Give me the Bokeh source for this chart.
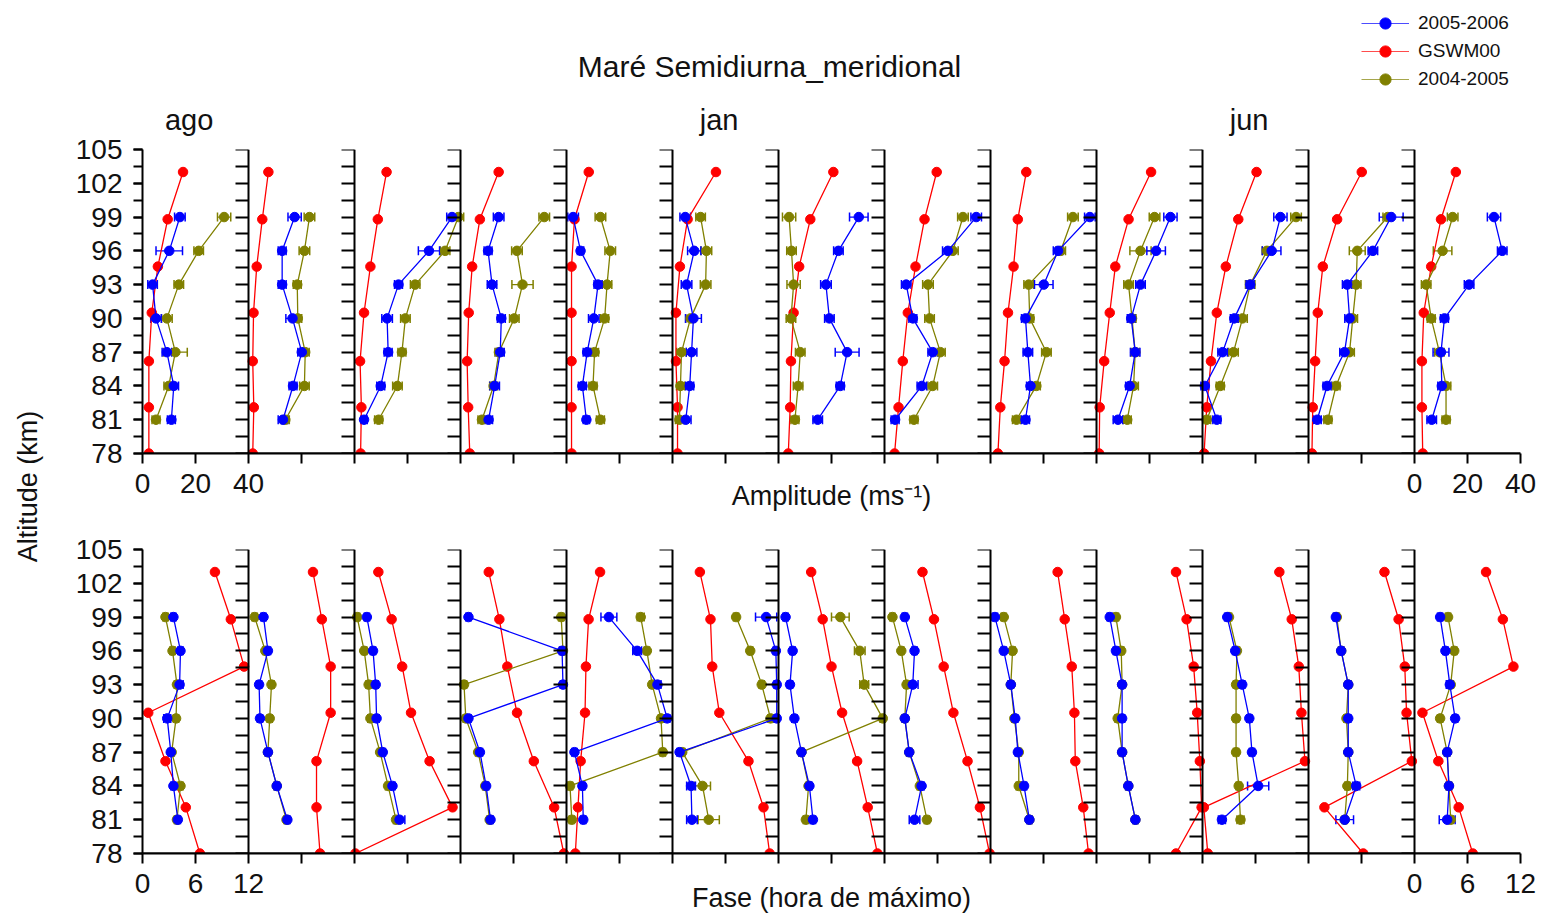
import numpy as np
from bokeh.plotting import figure
from bokeh.models import (Range1d, LinearAxis, FixedTicker, Whisker, TeeHead,
                          ColumnDataSource, Label, Legend, LegendItem)
from bokeh.layouts import column, row
from bokeh.embed import file_html
from bokeh.resources import INLINE

FONT = "Liberation Sans"
TXT = "#111111"

months = ["ago", "set", "out", "nov", "dez", "jan", "fev", "mar", "abr", "mai", "jun", "jul", "ago"]
shown_months = [0, 5, 10]   # month names printed above the amplitude row

alt_gswm = [78.0, 82.1, 86.2, 90.5, 94.6, 98.8, 103.0]
alt_obs = [81, 84, 87, 90, 93, 96, 99]
alt_ticks = [78, 81, 84, 87, 90, 93, 96, 99, 102, 105]

# ---------------- Amplitude (m/s) ----------------
amp_gswm = [
    [2.4, 2.4, 2.4, 3.5, 5.8, 9.5, 15.3],
    [1.6, 2.0, 1.6, 1.9, 3.1, 5.2, 7.5],
    [2.3, 2.6, 2.1, 3.6, 6.0, 8.8, 12.1],
    [3.5, 2.9, 2.5, 3.1, 4.4, 7.3, 14.4],
    [1.9, 1.9, 1.9, 1.9, 1.9, 3.0, 8.4],
    [1.9, 1.9, 1.3, 1.3, 2.8, 5.7, 16.4],
    [3.7, 4.4, 4.7, 5.7, 7.8, 12.0, 20.7],
    [3.8, 5.3, 6.9, 8.8, 11.7, 15.1, 19.7],
    [2.8, 3.7, 5.3, 6.6, 8.7, 10.3, 13.5],
    [1.0, 1.2, 2.9, 5.0, 7.1, 12.1, 20.6],
    [0.6, 1.6, 3.2, 5.4, 8.8, 13.5, 20.4],
    [1.3, 1.6, 2.5, 3.5, 5.4, 10.8, 20.1],
    [3.1, 2.8, 2.8, 3.5, 6.3, 10.0, 15.6],
]
amp_2005 = [
    [10.9, 11.8, 9.2, 5.1, 3.8, 10.1, 14.1],
    [13.0, 16.8, 20.1, 16.6, 12.7, 12.7, 17.4],
    [3.6, 9.9, 12.7, 12.3, 16.6, 28.1, 36.8],
    [10.6, 12.9, 15.0, 15.4, 11.9, 10.4, 14.4],
    [7.5, 6.0, 7.8, 10.3, 11.9, 5.3, 2.5],
    [5.0, 6.5, 7.2, 7.9, 5.3, 8.2, 4.8],
    [14.8, 23.3, 25.9, 19.2, 17.9, 22.6, 30.3],
    [4.0, 14.1, 18.2, 10.7, 8.2, 23.9, 34.6],
    [13.2, 15.1, 14.1, 13.2, 20.1, 25.5, 37.5],
    [8.1, 12.5, 14.6, 13.1, 16.6, 22.5, 27.9],
    [5.4, 0.9, 7.6, 12.0, 18.0, 26.1, 29.4],
    [3.3, 7.0, 13.6, 15.5, 14.6, 24.3, 31.2],
    [6.5, 10.3, 10.0, 11.3, 20.6, 33.1, 30.0],
]
amp_2004 = [
    [5.1, 9.9, 12.4, 9.2, 13.7, 21.2, 30.8],
    [13.9, 21.1, 21.4, 18.6, 18.4, 21.1, 23.0],
    [9.1, 16.2, 17.9, 19.2, 22.9, 34.2, 39.2],
    [8.1, 12.5, 14.5, 20.3, 23.4, 21.3, 31.6],
    [12.8, 10.0, 10.6, 14.4, 15.3, 16.5, 12.8],
    [2.6, 3.0, 3.4, 6.8, 12.5, 12.8, 10.6],
    [6.2, 7.4, 8.2, 4.7, 5.7, 4.9, 4.0],
    [11.1, 18.2, 21.1, 17.0, 16.4, 25.8, 29.6],
    [9.8, 17.3, 21.1, 14.8, 14.4, 26.5, 31.1],
    [11.6, 14.0, 14.6, 13.4, 12.1, 16.6, 21.9],
    [1.6, 6.7, 11.7, 15.1, 18.0, 24.3, 35.3],
    [7.3, 10.4, 15.5, 16.7, 18.0, 18.4, 29.9],
    [11.9, 11.9, 9.4, 6.3, 4.4, 10.6, 14.4],
]
amp_err_2005 = [
    [1.5, 1.8, 1.8, 2.0, 1.8, 5.0, 2.0],
    [1.8, 1.5, 1.5, 2.5, 1.5, 1.5, 2.5],
    [1.2, 1.5, 1.5, 2.0, 1.5, 4.0, 2.0],
    [1.5, 1.8, 1.5, 1.5, 1.8, 1.5, 2.0],
    [1.2, 1.5, 1.5, 2.0, 1.5, 1.2, 2.0],
    [2.0, 1.5, 2.0, 3.0, 2.0, 2.5, 2.0],
    [1.8, 1.5, 4.5, 1.8, 2.0, 1.8, 3.5],
    [1.5, 1.8, 1.8, 1.5, 1.8, 2.0, 2.0],
    [1.5, 1.5, 1.8, 1.5, 3.5, 1.8, 2.0],
    [1.8, 1.5, 1.8, 1.5, 1.8, 3.5, 2.5],
    [1.5, 1.5, 1.8, 1.5, 1.5, 3.5, 2.5],
    [1.5, 1.5, 1.8, 1.8, 1.8, 1.8, 4.5],
    [1.8, 1.5, 3.0, 1.5, 1.8, 1.8, 2.5],
]
amp_err_2004 = [
    [1.5, 1.8, 4.5, 2.0, 1.8, 1.8, 2.5],
    [1.5, 1.8, 1.5, 1.5, 1.5, 2.0, 2.0],
    [1.5, 1.8, 1.5, 1.8, 1.8, 1.8, 2.0],
    [1.5, 1.5, 1.5, 1.8, 4.0, 2.0, 2.0],
    [1.5, 1.5, 1.5, 1.5, 1.8, 2.0, 2.0],
    [1.5, 1.5, 1.8, 1.8, 2.0, 2.0, 1.8],
    [1.5, 1.8, 1.8, 1.8, 2.5, 1.8, 2.5],
    [1.5, 1.8, 1.8, 1.8, 2.0, 2.0, 2.0],
    [1.5, 1.5, 1.8, 1.5, 1.8, 1.8, 2.0],
    [1.5, 1.8, 1.5, 1.5, 1.8, 4.0, 2.0],
    [1.5, 1.5, 1.8, 1.8, 1.8, 1.8, 2.0],
    [1.5, 1.5, 1.8, 1.8, 1.8, 3.0, 1.8],
    [1.5, 1.8, 1.8, 1.5, 1.8, 3.5, 2.0],
]

# ---------------- Phase (hour of maximum) ----------------
fase_gswm = [
    [6.5, 4.9, 2.6, 0.65, 11.5, 10.0, 8.2],
    [8.1, 7.7, 7.7, 9.3, 9.3, 8.3, 7.3],
    [0.1, 11.1, 8.5, 6.4, 5.4, 4.2, 2.7],
    [11.7, 10.6, 8.3, 6.4, 5.3, 4.4, 3.2],
    [1.0, 1.3, 1.6, 2.1, 2.2, 2.5, 3.8],
    [11.0, 10.3, 8.6, 5.3, 4.5, 4.3, 3.1],
    [11.2, 10.1, 8.9, 7.2, 6.0, 5.0, 3.7],
    [11.9, 10.8, 9.4, 7.8, 6.7, 5.6, 4.3],
    [11.1, 10.5, 9.6, 9.5, 9.2, 8.4, 7.6],
    [9.0, 11.9, 11.7, 11.4, 11.0, 10.2, 9.0],
    [0.6, 0.15, 11.6, 11.2, 10.9, 10.1, 8.7],
    [6.2, 1.8, 11.7, 11.1, 10.9, 10.2, 8.6],
    [6.6, 5.0, 2.7, 0.9, 11.2, 10.0, 8.1],
]
fase_2005 = [
    [4.0, 3.5, 3.2, 2.8, 4.2, 4.3, 3.5],
    [4.4, 3.2, 2.2, 1.3, 1.2, 2.2, 1.7],
    [5.1, 4.3, 3.2, 2.5, 2.4, 2.1, 1.4],
    [3.4, 2.9, 2.2, 0.9, 11.6, 11.5, 0.9],
    [1.9, 1.8, 0.9, 11.4, 10.3, 8.0, 4.8],
    [2.2, 2.1, 0.8, 11.8, 11.8, 11.7, 10.6],
    [3.9, 3.5, 2.6, 1.8, 1.3, 1.6, 0.8],
    [3.4, 4.2, 2.8, 2.3, 3.2, 3.4, 2.3],
    [4.4, 3.8, 3.1, 2.8, 2.3, 1.5, 0.5],
    [4.4, 3.6, 2.9, 2.9, 2.9, 2.2, 1.5],
    [2.2, 6.3, 5.6, 5.3, 4.5, 3.7, 2.8],
    [4.1, 5.4, 4.5, 4.5, 4.5, 3.7, 3.1],
    [3.7, 3.9, 3.7, 4.6, 4.0, 3.5, 2.9],
]
fase_2004 = [
    [3.9, 4.3, 3.3, 3.8, 3.9, 3.4, 2.6],
    [4.3, 3.2, 2.2, 2.4, 2.6, 1.9, 0.7],
    [4.7, 3.8, 2.9, 1.8, 1.6, 1.1, 0.3],
    [3.3, 2.8, 2.0, 0.6, 0.4, 11.6, 11.4],
    [0.6, 0.4, 10.9, 10.7, 9.7, 9.1, 8.4],
    [4.1, 3.4, 1.1, 11.1, 10.1, 8.8, 7.2],
    [3.1, 3.4, 2.6, 11.8, 9.7, 9.2, 7.0],
    [4.8, 4.0, 2.8, 2.3, 2.5, 1.9, 0.9],
    [4.4, 3.2, 3.2, 2.7, 2.3, 2.5, 1.5],
    [4.4, 3.6, 2.9, 2.4, 2.9, 2.8, 2.2],
    [4.3, 4.1, 3.8, 3.8, 3.8, 3.9, 3.0],
    [4.1, 4.4, 4.5, 4.3, 4.5, 3.7, 3.2],
    [4.1, 3.9, 3.7, 2.9, 4.1, 4.5, 3.8],
]
fase_err_2005 = [
    [0.3, 0.3, 0.3, 0.4, 0.4, 0.3, 0.3],
    [0.3, 0.3, 0.3, 0.3, 0.3, 0.3, 0.3],
    [0.6, 0.3, 0.3, 0.3, 0.3, 0.3, 0.3],
    [0.3, 0.3, 0.3, 0.3, 0.3, 0.3, 0.3],
    [0.3, 0.3, 0.3, 0.3, 0.4, 0.5, 0.9],
    [0.6, 0.5, 0.3, 0.3, 0.3, 0.3, 1.2],
    [0.3, 0.3, 0.3, 0.3, 0.3, 0.3, 0.3],
    [0.6, 0.3, 0.3, 0.3, 0.6, 0.3, 0.3],
    [0.3, 0.3, 0.3, 0.3, 0.3, 0.3, 0.3],
    [0.3, 0.3, 0.3, 0.3, 0.3, 0.3, 0.3],
    [0.4, 1.2, 0.3, 0.3, 0.3, 0.3, 0.3],
    [1.0, 0.4, 0.3, 0.3, 0.3, 0.3, 0.3],
    [0.9, 0.3, 0.3, 0.3, 0.4, 0.3, 0.3],
]
fase_err_2004 = [
    [0.3, 0.3, 0.3, 0.3, 0.3, 0.3, 0.3],
    [0.3, 0.3, 0.3, 0.3, 0.3, 0.3, 0.3],
    [0.3, 0.3, 0.3, 0.3, 0.3, 0.3, 0.3],
    [0.3, 0.3, 0.3, 0.3, 0.3, 0.3, 0.3],
    [0.3, 0.3, 0.3, 0.3, 0.3, 0.3, 0.4],
    [1.2, 0.9, 0.3, 0.3, 0.3, 0.3, 0.3],
    [0.3, 0.3, 0.3, 0.3, 0.5, 0.6, 1.0],
    [0.3, 0.3, 0.3, 0.3, 0.3, 0.3, 0.3],
    [0.3, 0.3, 0.3, 0.3, 0.3, 0.3, 0.3],
    [0.3, 0.3, 0.3, 0.3, 0.3, 0.3, 0.3],
    [0.4, 0.3, 0.3, 0.3, 0.3, 0.3, 0.3],
    [0.3, 0.3, 0.3, 0.3, 0.3, 0.3, 0.3],
    [0.3, 0.3, 0.3, 0.3, 0.3, 0.3, 0.3],
]

series_names = ["2005-2006", "GSWM00", "2004-2005"]
C_BLUE, C_RED, C_OLIVE = "#0000ff", "#ff0000", "#808000"

N = len(months)
FRAME_W, FRAME_H = 1378, 304
YW = 57            # width of the y-title strip
BORDER_L = 85      # left border of the panel figures


def style_axis(ax, tick_out_major, tick_out_minor, label_size="28px"):
    ax.axis_line_width = 2
    ax.axis_line_color = "black"
    ax.major_tick_line_width = 2
    ax.minor_tick_line_width = 2
    ax.major_tick_out = tick_out_major
    ax.major_tick_in = 0
    ax.minor_tick_out = tick_out_minor
    ax.minor_tick_in = 0
    ax.major_label_text_font = FONT
    ax.major_label_text_font_size = label_size
    ax.major_label_text_color = TXT
    ax.axis_label_text_font = FONT
    ax.axis_label_text_font_style = "normal"
    ax.axis_label_text_color = TXT
    ax.axis_label_text_font_size = "27px"


def add_series(p, xs, ys, color, errs=None):
    src = ColumnDataSource(dict(x=xs, y=ys))
    if errs is not None:
        lo = [a - e for a, e in zip(xs, errs)]
        hi = [a + e for a, e in zip(xs, errs)]
        wsrc = ColumnDataSource(dict(y=ys, lo=lo, hi=hi))
        w = Whisker(base="y", lower="lo", upper="hi", dimension="width", source=wsrc,
                    line_color=color, line_width=1.2,
                    lower_head=TeeHead(size=9, line_color=color, line_width=1.5),
                    upper_head=TeeHead(size=9, line_color=color, line_width=1.5))
        p.add_layout(w)
    p.line("x", "y", source=src, line_color=color, line_width=1.3)
    p.scatter("x", "y", source=src, size=9.5, fill_color=color, line_color=color)


def make_row(span, gswm, s2005, s2004, e2005, e2004, top, bottom,
             tick_label_standoff, xlabel, xlabel_standoff, with_months):
    p = figure(frame_width=FRAME_W, frame_height=FRAME_H,
               x_range=Range1d(0, span * N), y_range=Range1d(78, 105),
               min_border_left=BORDER_L, min_border_right=16, min_border_top=top,
               min_border_bottom=bottom,
               toolbar_location=None, output_backend="svg",
               x_axis_location=None, y_axis_location=None)
    p.outline_line_color = None
    p.grid.visible = False
    p.background_fill_color = "white"
    p.border_fill_color = "white"

    minor_alts = [78 + 1.5 * k for k in range(19)]
    # left axis of the first panel (with labels)
    yl = LinearAxis(ticker=FixedTicker(ticks=alt_ticks, minor_ticks=minor_alts))
    style_axis(yl, 9, 9)
    yl.major_label_standoff = 11
    p.add_layout(yl, "left")
    # the axes of the other panels, at each panel boundary
    for i in range(1, N):
        ax = LinearAxis(fixed_location=span * i,
                        ticker=FixedTicker(ticks=[], minor_ticks=minor_alts))
        style_axis(ax, 13, 13)
        p.add_layout(ax, "left")

    half = span / 2
    quarter = span / 4
    long_ticks = [half * k for k in range(2 * N + 1)]
    label_ticks = [0, half, span, span * (N - 1), span * (N - 1) + half, span * N]
    other_long = [t for t in long_ticks if t not in label_ticks]
    short_ticks = [quarter * k for k in range(4 * N + 1) if k % 2 == 1]

    xb = LinearAxis(ticker=FixedTicker(ticks=label_ticks, minor_ticks=other_long))
    style_axis(xb, 10, 10)
    xb.major_label_standoff = tick_label_standoff
    xb.major_label_overrides = {span * (N - 1): "0",
                                span * (N - 1) + half: str(int(half)),
                                span * N: str(int(span))}
    xb.axis_label = xlabel
    xb.axis_label_standoff = xlabel_standoff
    p.add_layout(xb, "below")

    xs = LinearAxis(fixed_location=78, ticker=FixedTicker(ticks=[], minor_ticks=short_ticks))
    style_axis(xs, 7, 7)
    p.add_layout(xs, "below")

    if with_months:
        pos = [span * i + 0.44 * span for i in shown_months]
        ma = LinearAxis(ticker=FixedTicker(ticks=pos, minor_ticks=[]))
        ma.major_label_overrides = {x: months[i] for x, i in zip(pos, shown_months)}
        ma.axis_line_color = None
        ma.major_tick_line_color = None
        ma.major_tick_out = 0
        ma.major_tick_in = 0
        ma.major_label_standoff = 14
        ma.major_label_text_font = FONT
        ma.major_label_text_font_size = "29px"
        ma.major_label_text_color = TXT
        p.add_layout(ma, "above")

    for i in range(N):
        off = span * i
        add_series(p, [v + off for v in gswm[i]], alt_gswm, C_RED)
        add_series(p, [v + off for v in s2004[i]], alt_obs, C_OLIVE, e2004[i])
        add_series(p, [v + off for v in s2005[i]], alt_obs, C_BLUE, e2005[i])
    return p


top_fig = make_row(40, amp_gswm, amp_2005, amp_2004, amp_err_2005, amp_err_2004,
                   top=48, bottom=70, tick_label_standoff=10,
                   xlabel="Amplitude (ms\u207b\u00b9)", xlabel_standoff=-15, with_months=True)
bot_fig = make_row(12, fase_gswm, fase_2005, fase_2004, fase_err_2005, fase_err_2004,
                   top=26, bottom=59, tick_label_standoff=10,
                   xlabel="Fase (hora de m\u00e1ximo)", xlabel_standoff=-13, with_months=False)

# header: title + legend
HW, HH = YW + BORDER_L + FRAME_W + 16, 100
header = figure(width=HW, height=HH, x_range=Range1d(0, HW), y_range=Range1d(0, HH),
                min_border=0, toolbar_location=None, output_backend="svg",
                x_axis_location=None, y_axis_location=None)
header.outline_line_color = None
header.grid.visible = False
header.add_layout(Label(x=769, y=HH - 66, text="Mar\u00e9 Semidiurna_meridional",
                        text_align="center", text_baseline="middle",
                        text_font=FONT, text_font_size="30px", text_color=TXT))
items = []
for name, c in zip(series_names, [C_BLUE, C_RED, C_OLIVE]):
    # legend-only renderers (no visible data)
    rl = header.line(x=[np.nan], y=[np.nan], line_color=c, line_width=1.2, line_alpha=0.7)
    rs = header.scatter(x=[np.nan], y=[np.nan], size=8, fill_color=c, line_color=c)
    items.append(LegendItem(label=name, renderers=[rl, rs]))
leg = Legend(items=items, location=(1361, HH - 93), orientation="vertical",
             glyph_width=48, glyph_height=28, label_height=28, spacing=0, padding=0, margin=0,
             label_standoff=9, border_line_color=None, background_fill_alpha=0,
             label_text_font=FONT, label_text_font_size="19px", label_text_color=TXT)
header.add_layout(leg, "center")

# y-axis title spanning both rows
YH = (48 + FRAME_H + 70) + (26 + FRAME_H + 59)
ylab = figure(width=YW, height=YH, x_range=Range1d(0, YW), y_range=Range1d(0, YH),
              min_border=0, toolbar_location=None, output_backend="svg",
              x_axis_location=None, y_axis_location=None)
ylab.outline_line_color = None
ylab.grid.visible = False
ylab.add_layout(Label(x=27, y=YH - 386, text="Altitude (km)", angle=np.pi / 2,
                      text_align="center", text_baseline="middle",
                      text_font=FONT, text_font_size="27px", text_color=TXT))

layout = column(header, row(ylab, column(top_fig, bot_fig)))
open("out.html", "w").write(file_html(layout, INLINE))
